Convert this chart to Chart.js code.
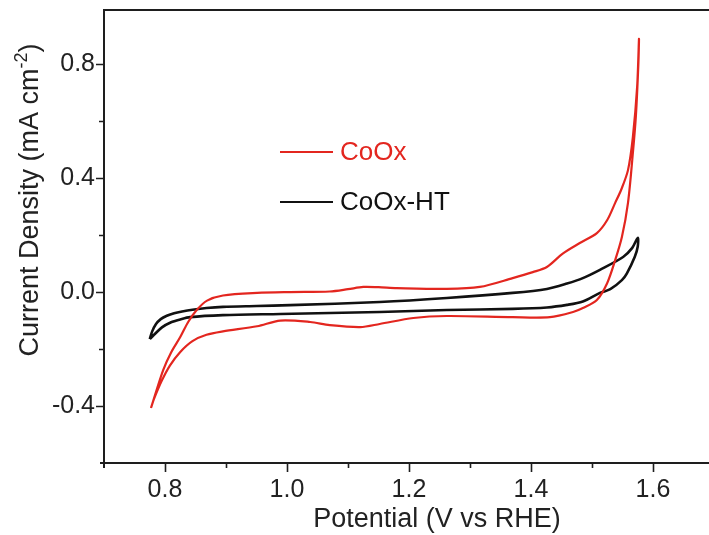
<!DOCTYPE html>
<html><head><meta charset="utf-8">
<script src="https://cdn.jsdelivr.net/npm/chart.js@4.4.1/dist/chart.umd.min.js"></script>
<style>
html,body{margin:0;padding:0;background:#fff;overflow:hidden;width:709px;height:535px}
#wrap{position:relative;width:720px;height:535px}
</style></head>
<body><div id="wrap"><canvas id="c" width="720" height="535" style="width:720px;height:535px"></canvas></div>
<script>
// ---- data ----
const seriesNames = ['CoOx', 'CoOx-HT'];
const coOxPotential = [0.777,0.797,0.810,0.825,0.838,0.852,0.869,0.895,0.951,1.005,1.070,1.100,1.125,1.150,1.180,1.262,1.316,1.370,1.403,1.426,1.452,1.480,1.508,1.525,1.538,1.548,1.559,1.567,1.574,1.577,
  1.576,1.572,1.567,1.559,1.549,1.538,1.525,1.508,1.485,1.469,1.431,1.370,1.262,1.207,1.152,1.120,1.070,1.038,0.989,0.951,0.895,0.868,0.845,0.825,0.808,0.795,0.782,0.777];
const coOxCurrent = [-0.407,-0.274,-0.212,-0.158,-0.105,-0.063,-0.030,-0.012,-0.003,0.000,0.002,0.010,0.018,0.017,0.014,0.011,0.018,0.049,0.070,0.088,0.135,0.172,0.207,0.253,0.313,0.360,0.428,0.544,0.720,0.888,
  0.800,0.620,0.488,0.313,0.193,0.112,0.032,-0.028,-0.056,-0.070,-0.088,-0.088,-0.084,-0.091,-0.112,-0.123,-0.116,-0.105,-0.100,-0.120,-0.138,-0.150,-0.172,-0.210,-0.258,-0.310,-0.375,-0.407];
const coOxHtPotential = [0.775,0.779,0.785,0.793,0.803,0.815,0.828,0.845,0.868,0.895,0.950,1.005,1.152,1.262,1.370,1.426,1.459,1.485,1.513,1.551,1.566,1.575,
  1.575,1.570,1.557,1.549,1.530,1.513,1.485,1.459,1.426,1.370,1.262,1.152,0.989,0.895,0.841,0.825,0.810,0.795,0.782,0.775];
const coOxHtCurrent = [-0.165,-0.138,-0.113,-0.095,-0.083,-0.074,-0.068,-0.062,-0.056,-0.052,-0.049,-0.046,-0.035,-0.021,-0.003,0.011,0.030,0.049,0.078,0.123,0.155,0.190,
  0.160,0.123,0.065,0.042,0.010,-0.003,-0.033,-0.045,-0.054,-0.059,-0.063,-0.070,-0.077,-0.081,-0.088,-0.096,-0.106,-0.124,-0.150,-0.165];
const xMajorTicks = [0.8,1.0,1.2,1.4,1.6];
const xMinorTicks = [0.9,1.1,1.3,1.5];
const yMajorTicks = [-0.4,0.0,0.4,0.8];
const yMinorTicks = [-0.2,0.2,0.6];
const xTitle = 'Potential (V vs RHE)';
const yTitleMain = 'Current Density (mA cm';
const yTitleSup = '-2';
const yTitleEnd = ')';

// ---- chart ----
const FONT = '"Liberation Sans", Arial, sans-serif';
const RED = '#e3261f';
const BLACK = '#111111';

const toPts = (xs, ys) => xs.map((v, i) => ({x: v, y: ys[i]}));

const decor = {
  id: 'decor',
  afterDraw(chart) {
    const {ctx, chartArea: a, scales: {x, y}} = chart;
    ctx.save();
    ctx.strokeStyle = '#1e1e1e';
    ctx.lineWidth = 2;
    ctx.lineCap = 'butt';
    ctx.beginPath();
    ctx.moveTo(a.left, a.top); ctx.lineTo(a.left, a.bottom + 5);
    ctx.moveTo(a.left - 4, a.bottom); ctx.lineTo(a.right, a.bottom);
    ctx.moveTo(a.left - 1, a.top); ctx.lineTo(a.right, a.top);
    ctx.moveTo(a.right, a.top); ctx.lineTo(a.right, a.bottom);
    ctx.stroke();
    ctx.lineWidth = 1.6;
    ctx.beginPath();
    xMajorTicks.forEach(v => { const p = Math.round(x.getPixelForValue(v)) + 0.5; ctx.moveTo(p, a.bottom); ctx.lineTo(p, a.bottom + 9); });
    xMinorTicks.forEach(v => { const p = Math.round(x.getPixelForValue(v)) + 0.5; ctx.moveTo(p, a.bottom); ctx.lineTo(p, a.bottom + 5); });
    yMajorTicks.forEach(v => { const p = Math.round(y.getPixelForValue(v)) + 0.5; ctx.moveTo(a.left, p); ctx.lineTo(a.left - 8, p); });
    yMinorTicks.forEach(v => { const p = Math.round(y.getPixelForValue(v)) + 0.5; ctx.moveTo(a.left, p); ctx.lineTo(a.left - 5, p); });
    ctx.stroke();

    // legend
    const ds = chart.data.datasets;
    const legY = [152, 202];
    ctx.font = '26px ' + FONT;
    ctx.textBaseline = 'middle';
    ctx.textAlign = 'left';
    ds.forEach((d, i) => {
      ctx.strokeStyle = d.borderColor; ctx.lineWidth = 2;
      ctx.beginPath(); ctx.moveTo(280, legY[i]); ctx.lineTo(333, legY[i]); ctx.stroke();
      ctx.fillStyle = d.borderColor;
      ctx.fillText(d.label, 340, legY[i] + 1);
    });

    // x title
    ctx.fillStyle = '#222';
    ctx.font = '27px ' + FONT;
    ctx.textAlign = 'center';
    ctx.textBaseline = 'middle';
    ctx.fillText(xTitle, 437, 520);

    // y title with superscript
    ctx.save();
    ctx.translate(31, 200);
    ctx.rotate(-Math.PI / 2);
    const mainFont = '27px ' + FONT, supFont = '18px ' + FONT;
    ctx.font = mainFont; const w1 = ctx.measureText(yTitleMain).width; const w3 = ctx.measureText(yTitleEnd).width;
    ctx.font = supFont; const w2 = ctx.measureText(yTitleSup).width;
    let sx = -(w1 + w2 + w3) / 2;
    ctx.textAlign = 'left';
    ctx.textBaseline = 'middle';
    ctx.font = mainFont; ctx.fillText(yTitleMain, sx, 0); sx += w1;
    ctx.font = supFont; ctx.fillText(yTitleSup, sx, -9); sx += w2;
    ctx.font = mainFont; ctx.fillText(yTitleEnd, sx, 0);
    ctx.restore();
    ctx.restore();
  }
};

const zeroPad = s => { s.paddingTop = 0; s.paddingBottom = 0; s.paddingLeft = 0; s.paddingRight = 0; };

new Chart(document.getElementById('c'), {
  type: 'line',
  data: {
    datasets: [
      {label: seriesNames[0], data: toPts(coOxPotential, coOxCurrent), borderColor: RED, borderWidth: 2.2, pointRadius: 0, tension: 0.3, fill: false},
      {label: seriesNames[1], data: toPts(coOxHtPotential, coOxHtCurrent), borderColor: BLACK, borderWidth: 2.6, pointRadius: 0, tension: 0.3, fill: false}
    ]
  },
  options: {
    responsive: false,
    animation: false,
    devicePixelRatio: 1,
    layout: {padding: {left: 0, top: 10, right: 6, bottom: 0}},
    plugins: {legend: {display: false}, tooltip: {enabled: false}},
    scales: {
      x: {
        type: 'linear', min: 0.7, max: 1.7,
        afterBuildTicks: s => { s.ticks = xMajorTicks.map(v => ({value: v})); },
        afterFit: s => { s.height = 72; zeroPad(s); },
        grid: {display: false, drawTicks: false},
        border: {display: false},
        ticks: {padding: 12, color: '#222', font: {family: FONT, size: 25}, callback: v => Number(v).toFixed(1), maxRotation: 0}
      },
      y: {
        type: 'linear', min: -0.6, max: 0.99,
        afterBuildTicks: s => { s.ticks = yMajorTicks.map(v => ({value: v})); },
        afterFit: s => { s.width = 104; zeroPad(s); },
        grid: {display: false, drawTicks: false},
        border: {display: false},
        ticks: {padding: 9, color: '#222', font: {family: FONT, size: 25}, callback: v => Number(v).toFixed(1)}
      }
    }
  },
  plugins: [decor]
});
</script>
</body></html>
